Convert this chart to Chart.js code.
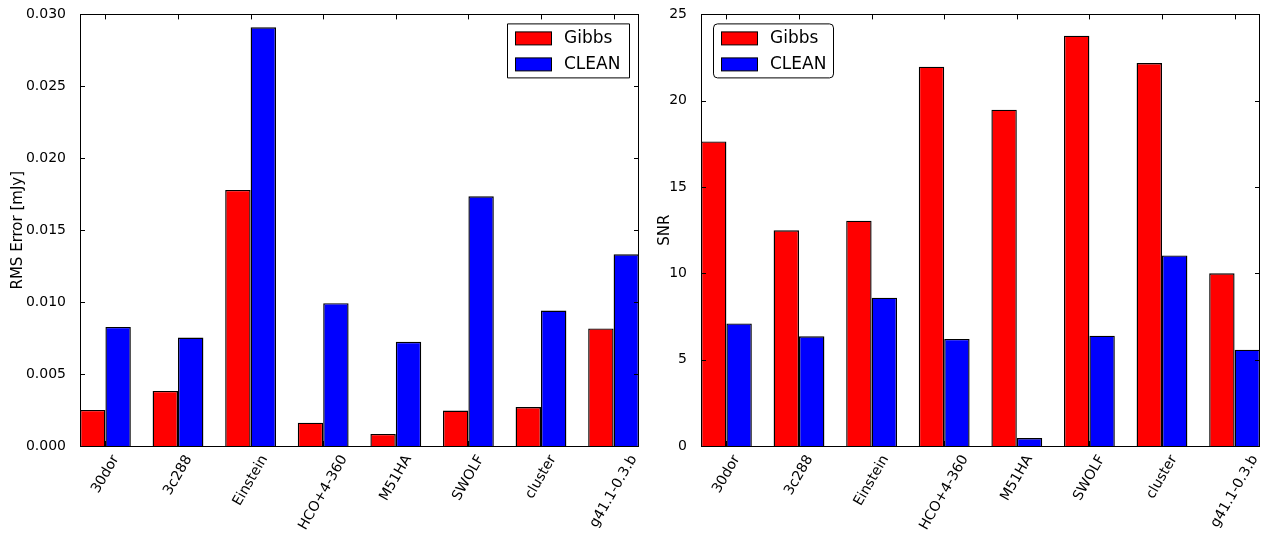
<!DOCTYPE html>
<html>
<head>
<meta charset="utf-8">
<script src="https://cdn.jsdelivr.net/npm/chart.js@4.4.1/dist/chart.umd.min.js"></script>
<style>
  html, body { margin: 0; padding: 0; background: #fff; }
  body { width: 1262px; height: 535px; position: relative; overflow: hidden; }
  canvas { position: absolute; top: 0; }
  #c1 { left: 0; }
  #c2 { left: 640px; }
</style>
</head>
<body>
<canvas id="c1" width="640" height="535"></canvas>
<canvas id="c2" width="622" height="535"></canvas>
<script>
// ---- data ----
const categories = ["30dor", "3c288", "Einstein", "HCO+4-360", "M51HA", "SWOLF", "cluster", "g41.1-0.3.b"];
const seriesNames = ["Gibbs", "CLEAN"];
const rmsGibbs = [0.00251, 0.00383, 0.0178, 0.00162, 0.00084, 0.00246, 0.00271, 0.00817];
const rmsClean = [0.00828, 0.00754, 0.0291, 0.00993, 0.00724, 0.01736, 0.00942, 0.01333];
const snrGibbs = [17.64, 12.49, 13.05, 21.97, 19.48, 23.77, 22.18, 10.0];
const snrClean = [7.10, 6.35, 8.59, 6.20, 0.46, 6.39, 11.04, 5.58];
const rmsTickValues = [0, 0.005, 0.010, 0.015, 0.020, 0.025, 0.030];
const snrTickValues = [0, 5, 10, 15, 20, 25];

Chart.defaults.font.family = "'DejaVu Sans', sans-serif";
Chart.defaults.color = "#000";

const groupCenter = 0.35;   // ticks sit between the two bars of a group
const axisMax = categories.length - 1 + 0.7;

function toPoints(values) {
  return values.map((v, i) => ({ x: i + groupCenter, y: v }));
}

// frame + inward tick marks (matplotlib style)
const framePlugin = {
  id: 'frame',
  afterDatasetsDraw(chart) {
    const { ctx, chartArea: a, scales } = chart;
    ctx.save();
    ctx.strokeStyle = '#000';
    ctx.lineWidth = 1;
    const L = 5;
    ctx.beginPath();
    scales.y.ticks.forEach(t => {
      const y = Math.round(scales.y.getPixelForValue(t.value)) + 0.5;
      ctx.moveTo(a.left, y); ctx.lineTo(a.left + L, y);
      ctx.moveTo(a.right, y); ctx.lineTo(a.right - L, y);
    });
    scales.x.ticks.forEach(t => {
      const x = Math.round(scales.x.getPixelForValue(t.value)) + 0.5;
      ctx.moveTo(x, a.top); ctx.lineTo(x, a.top + L);
      ctx.moveTo(x, a.bottom); ctx.lineTo(x, a.bottom - L);
    });
    ctx.stroke();
    ctx.strokeRect(Math.round(a.left) + 0.5, Math.round(a.top) + 0.5,
                   Math.round(a.right - a.left) - 1, Math.round(a.bottom - a.top));
    ctx.restore();
  }
};

// rotated category labels, bounding box centred under each tick (matplotlib style)
const rotatedLabelPlugin = {
  id: 'rotLabels',
  afterDraw(chart) {
    const { ctx, chartArea: a, scales } = chart;
    const th = 60 * Math.PI / 180;
    const fontPx = 14;
    const h = fontPx * 1.0;
    ctx.save();
    ctx.font = fontPx + "px 'DejaVu Sans'";
    ctx.fillStyle = '#000';
    ctx.textAlign = 'center';
    ctx.textBaseline = 'middle';
    scales.x.ticks.forEach((t, i) => {
      const label = categories[i];
      const w = ctx.measureText(label).width;
      const bw = w * Math.cos(th) + h * Math.sin(th);
      const bh = w * Math.sin(th) + h * Math.cos(th);
      const cx = scales.x.getPixelForValue(t.value);
      const cy = a.bottom + 7 + bh / 2;
      ctx.save();
      ctx.translate(cx, cy);
      ctx.rotate(-th);
      ctx.fillText(label, 0, 0);
      ctx.restore();
    });
    ctx.restore();
  }
};

// legend box drawn inside the plot area
const boxLegendPlugin = {
  id: 'boxLegend',
  afterDraw(chart, args, opts) {
    const { ctx, chartArea: a } = chart;
    const w = opts.width, h = 54;
    const x0 = opts.side === 'right' ? a.right - 10 - w : a.left + 12;
    const y0 = a.top + 9;
    ctx.save();
    ctx.fillStyle = '#fff';
    ctx.strokeStyle = '#000';
    ctx.lineWidth = 1;
    ctx.beginPath();
    if (ctx.roundRect) ctx.roundRect(x0 + 0.5, y0 + 0.5, w, h, opts.radius);
    else ctx.rect(x0 + 0.5, y0 + 0.5, w, h);
    ctx.fill();
    ctx.stroke();
    ctx.font = "17px 'DejaVu Sans'";
    ctx.textBaseline = 'middle';
    chart.data.datasets.forEach((ds, i) => {
      const sy = y0 + 8 + i * 26;
      ctx.fillStyle = ds.backgroundColor;
      ctx.fillRect(x0 + 8.5, sy + 0.5, 36, 13);
      ctx.strokeStyle = '#000';
      ctx.strokeRect(x0 + 8.5, sy + 0.5, 36, 13);
      ctx.fillStyle = '#000';
      ctx.fillText(ds.label, x0 + 57, sy + 7);
    });
    ctx.restore();
  }
};

function makeChart(id, gibbs, clean, yTitle, yTicks, yFmt, yWidth, padRight, titlePad, legendOpts) {
  return new Chart(document.getElementById(id), {
    type: 'bar',
    data: {
      datasets: [
        { label: seriesNames[0], data: toPoints(gibbs), backgroundColor: '#ff0000', borderColor: '#000', borderWidth: 1.4 },
        { label: seriesNames[1], data: toPoints(clean), backgroundColor: '#0000ff', borderColor: '#000', borderWidth: 1.4 }
      ]
    },
    options: {
      responsive: false,
      animation: false,
      devicePixelRatio: 1,
      categoryPercentage: 0.7,
      barPercentage: 1.0,
      layout: { padding: { top: 13, right: padRight, bottom: 0, left: 0 } },
      plugins: {
        legend: { display: false },
        tooltip: { enabled: false },
        boxLegend: legendOpts
      },
      scales: {
        x: {
          type: 'linear',
          offset: false,
          min: 0,
          max: axisMax,
          grid: { display: false, offset: false },
          border: { display: false },
          afterBuildTicks: (scale) => {
            scale.ticks = categories.map((c, i) => ({ value: i + groupCenter }));
          },
          afterFit: (scale) => { scale.height = 89; },
          ticks: { display: false, autoSkip: false }
        },
        y: {
          min: yTicks[0],
          max: yTicks[yTicks.length - 1],
          grid: { display: false },
          border: { display: false },
          afterBuildTicks: (scale) => { scale.ticks = yTicks.map(v => ({ value: v })); },
          afterFit: (scale) => { scale.width = yWidth; },
          ticks: { padding: 6, font: { size: 14 }, callback: yFmt },
          title: { display: true, text: yTitle, font: { size: 15 }, padding: { top: titlePad, bottom: 0 } }
        }
      }
    },
    plugins: [framePlugin, rotatedLabelPlugin, boxLegendPlugin]
  });
}

makeChart('c1', rmsGibbs, rmsClean, 'RMS Error [mJy]', rmsTickValues, v => Number(v).toFixed(3), 80, 1, 9,
  { side: 'right', width: 122, radius: 0 });
makeChart('c2', snrGibbs, snrClean, 'SNR', snrTickValues, v => String(v), 61, 2, 16,
  { side: 'left', width: 120, radius: 4 });
</script>
</body>
</html>
